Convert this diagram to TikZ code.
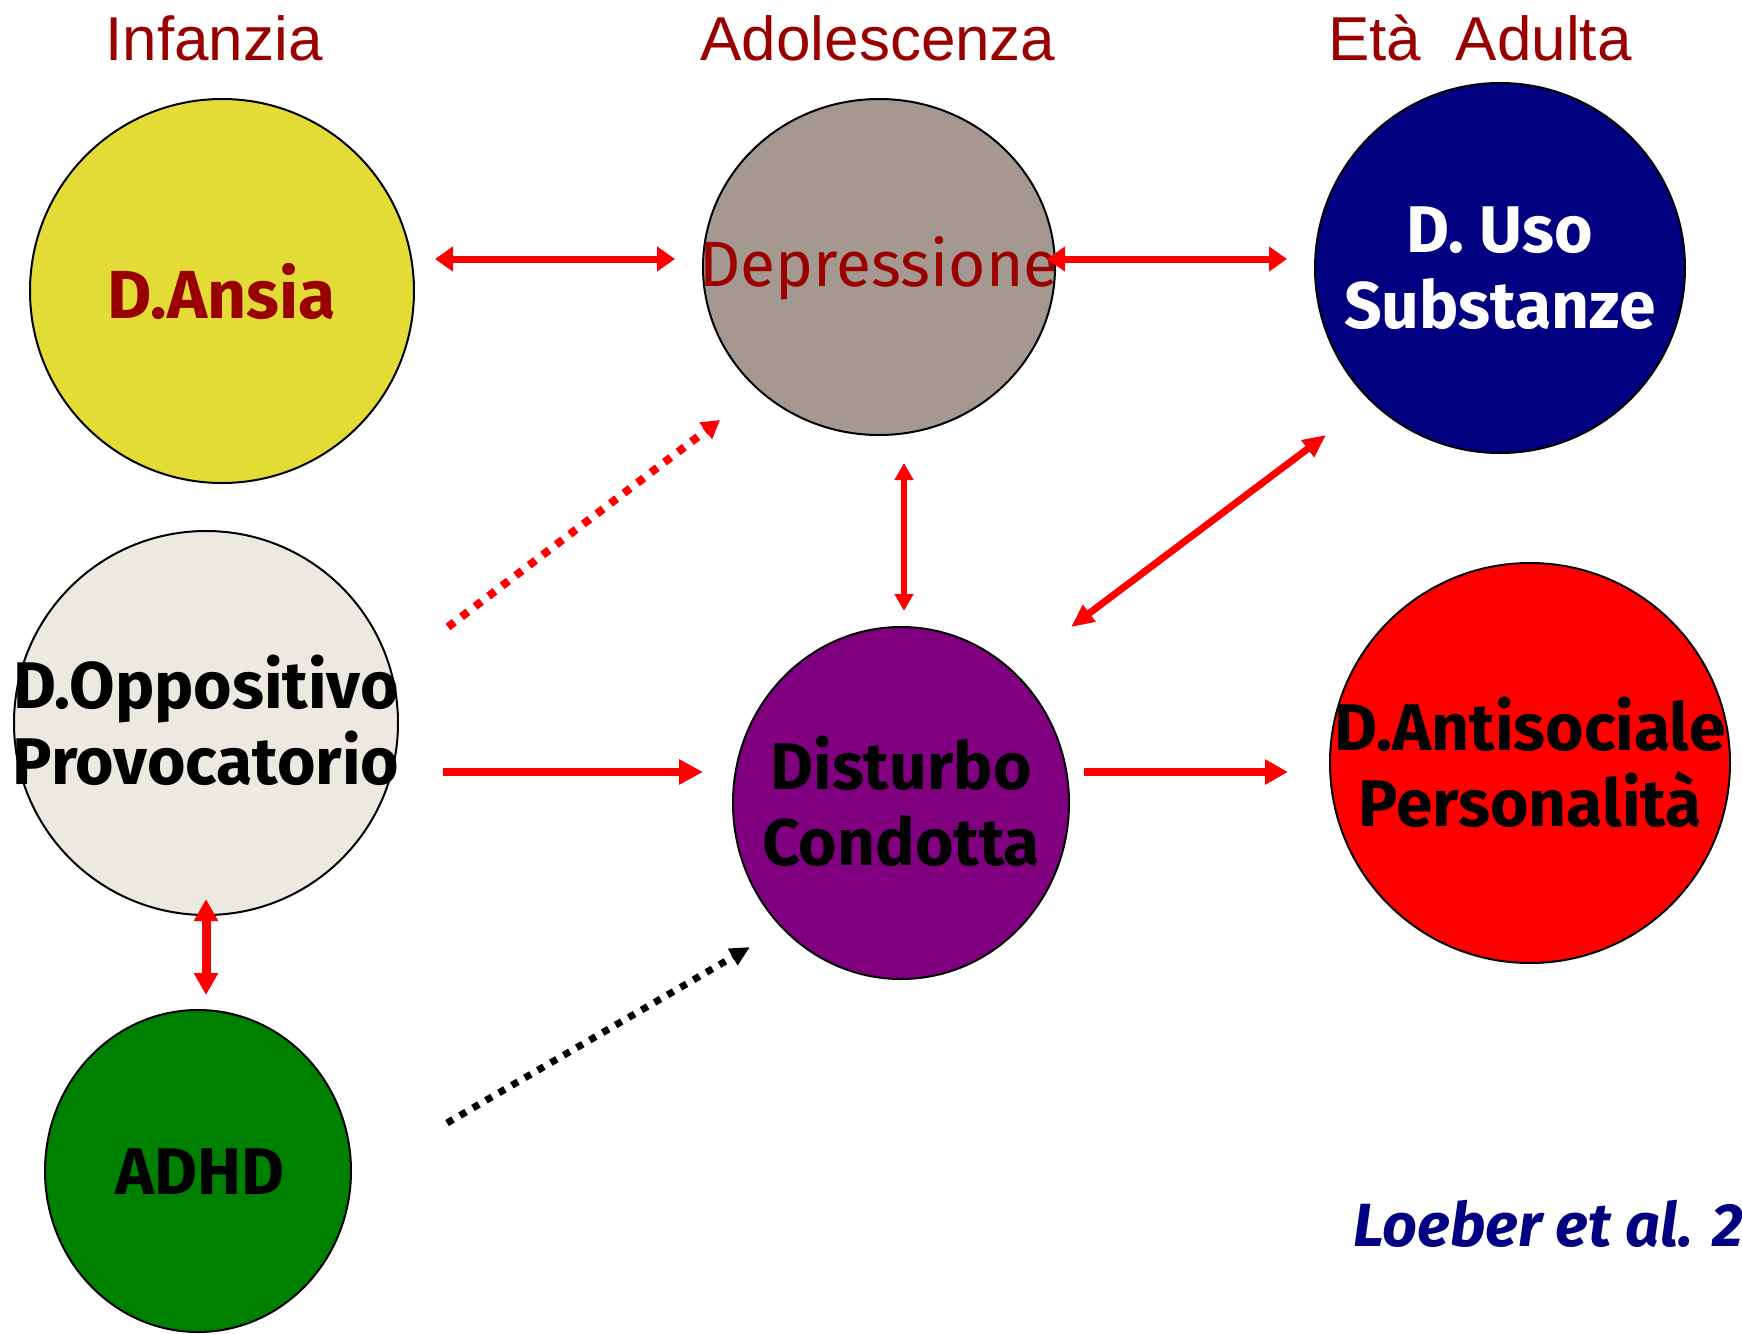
\documentclass[tikz,border=0pt]{standalone}
\usepackage{fontspec}
\setmainfont{Liberation Sans}
\newfontfamily\comicf{Fira Sans}
\usetikzlibrary{arrows.meta,shapes.geometric}
\definecolor{titlered}{RGB}{153,0,0}
\definecolor{cyellow}{RGB}{228,220,54}
\definecolor{cgray}{RGB}{165,152,144}
\definecolor{cnavy}{RGB}{0,0,128}
\definecolor{cbeige}{RGB}{236,234,224}
\definecolor{cpurple}{RGB}{128,0,128}
\definecolor{cgreen}{RGB}{0,128,0}
\begin{document}
\begin{tikzpicture}[x=0.5pt,y=-0.5pt,
  circ/.style={ellipse,draw=black,line width=1pt,inner sep=0pt},
  ctext/.style={font=\comicf\bfseries\fontsize{33}{38}\selectfont,align=center,inner sep=0pt},
  ttl/.style={font=\fontsize{31}{36}\selectfont,text=titlered,anchor=base,inner sep=0pt},
  redarr/.style={draw=red,line width=3.5pt},
  dotred/.style={draw=red,line width=4pt,dash pattern=on 4pt off 4.5pt},
  dotblack/.style={draw=black,line width=3.5pt,dash pattern=on 3.5pt off 4pt}]
\useasboundingbox (0,0) rectangle (1742,1334);
% titles
\node[ttl] (t1) at (214,60) {Infanzia};
\node[ttl] (t2) at (878,60) {Adolescenza};
\node[ttl] (t3) at (1480,60) {Età\ \ Adulta};
% circles
\node[circ,fill=cyellow,minimum width=192pt,minimum height=192pt] (ansia) at (222,291) {};
\node[circ,fill=cgray,minimum width=176pt,minimum height=168pt] (dep) at (879,267) {};
\node[circ,fill=cnavy,minimum width=185pt,minimum height=185pt] (uso) at (1500,268) {};
\node[circ,fill=cbeige,minimum width=192pt,minimum height=192pt] (opp) at (206,723) {};
\node[circ,fill=cpurple,minimum width=168pt,minimum height=176pt] (cond) at (901,803) {};
\node[circ,fill=red,minimum width=200pt,minimum height=200pt] (anti) at (1530,763) {};
\node[circ,fill=cgreen,minimum width=153pt,minimum height=161pt] (adhd) at (198,1171) {};
% texts
\node[ctext,text=titlered,font=\comicf\bfseries\fontsize{34}{38}\selectfont] (ansiat) at (222,291) {D.Ansia};
\node[ctext,text=titlered,font=\comicf\fontsize{32}{38}\selectfont] (dept) at (879,268) {Depressione};
\node[ctext,text=white] (usot) at (1500,268) {D.\ Uso\\Substanze};
\node[ctext,text=black] (oppt) at (206,720) {D.Oppositivo\\Provocatorio};
\node[ctext,text=black] (condt) at (901,801) {Disturbo\\Condotta};
\node[ctext,text=black] (antit) at (1530,762) {D.Antisociale\\Personalità};
\node[ctext,text=black] (adhdt) at (200,1172) {ADHD};
\node[font=\comicf\bfseries\itshape\fontsize{30.5}{34}\selectfont,text=cnavy,anchor=base west,inner sep=0pt] (ref) at (1353,1246) {Loeber et al.\hspace{10pt}2};
% connector end points
\coordinate (a1) at (435,259); \coordinate (a2) at (675,259);
\coordinate (b1) at (1047,259); \coordinate (b2) at (1287,259);
\coordinate (c1) at (904,463); \coordinate (c2) at (904,611);
\coordinate (d1) at (448,627); \coordinate (d2) at (720,420);
\coordinate (e1) at (443,772); \coordinate (e2) at (703,772);
\coordinate (f1) at (1071,627); \coordinate (f2) at (1326,435);
\coordinate (g1) at (1084,772); \coordinate (g2) at (1288,772);
\coordinate (h1) at (206,899); \coordinate (h2) at (206,995);
\coordinate (k1) at (447,1123); \coordinate (k2) at (750,947);
% connectors
\draw[redarr,{Triangle[length=9pt,width=12pt]}-{Triangle[length=9pt,width=12pt]}] (a1) -- (a2);
\draw[redarr,{Triangle[length=9pt,width=12pt]}-{Triangle[length=9pt,width=12pt]}] (b1) -- (b2);
\draw[redarr,line width=3pt,{Triangle[length=8.5pt,width=9pt]}-{Triangle[length=8.5pt,width=9pt]}] (c1) -- (c2);
\draw[dotred,-{Triangle[length=9pt,width=10pt]}] (d1) -- (d2);
\draw[redarr,line width=4pt,-{Triangle[length=12pt,width=12pt]}] (e1) -- (e2);
\draw[redarr,line width=3.5pt,{Triangle[length=11.5pt,width=10pt]}-{Triangle[length=11.5pt,width=10pt]}] (f1) -- (f2);
\draw[redarr,line width=4pt,-{Triangle[length=11.5pt,width=12pt]}] (g1) -- (g2);
\draw[redarr,line width=4.5pt,{Triangle[length=11pt,width=11.5pt]}-{Triangle[length=11pt,width=11.5pt]}] (h1) -- (h2);
\draw[dotblack,-{Triangle[length=10pt,width=9pt]}] (k1) -- (k2);
\end{tikzpicture}
\end{document}
